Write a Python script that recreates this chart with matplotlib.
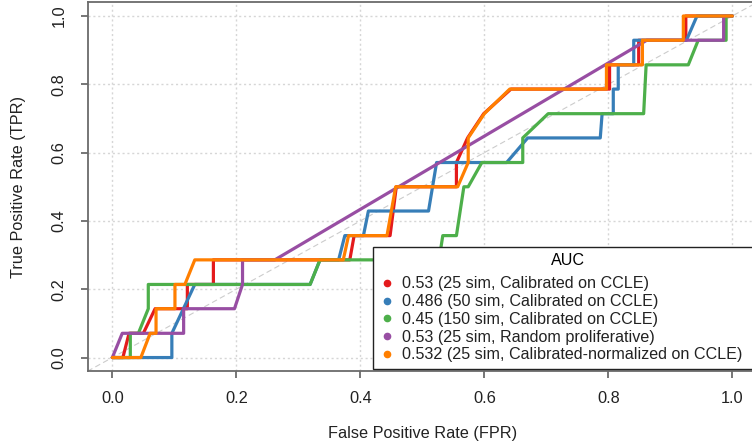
import matplotlib
matplotlib.use("Agg")
import matplotlib.pyplot as plt
from matplotlib.lines import Line2D

plt.rcParams['font.family'] = ['Liberation Sans', 'DejaVu Sans']

# ROC curves (FPR, TPR)
red_fpr = [0, 0.017, 0.027, 0.050, 0.069, 0.121, 0.121, 0.163, 0.163, 0.383, 0.390, 0.448, 0.458,
           0.555, 0.555, 0.573, 0.599, 0.643, 0.802, 0.802, 0.849, 0.849, 0.925, 0.925, 1.0]
red_tpr = [0, 0, 0.071, 0.071, 0.143, 0.143, 0.214, 0.214, 0.286, 0.286, 0.357, 0.357, 0.5,
           0.5, 0.571, 0.643, 0.714, 0.786, 0.786, 0.857, 0.857, 0.929, 0.929, 1.0, 1.0]

blue_fpr = [0, 0.096, 0.096, 0.133, 0.319, 0.335, 0.365, 0.375, 0.405, 0.413, 0.510, 0.523, 0.636,
            0.670, 0.787, 0.790, 0.808, 0.808, 0.816, 0.816, 0.841, 0.841, 0.926, 0.943, 1.0]
blue_tpr = [0, 0, 0.071, 0.214, 0.214, 0.286, 0.286, 0.357, 0.357, 0.429, 0.429, 0.571, 0.571,
            0.643, 0.643, 0.714, 0.714, 0.786, 0.786, 0.857, 0.857, 0.929, 0.929, 1.0, 1.0]

green_fpr = [0, 0.029, 0.029, 0.042, 0.058, 0.058, 0.319, 0.335, 0.527, 0.533, 0.555, 0.567,
             0.574, 0.596, 0.662, 0.662, 0.703, 0.857, 0.861, 0.929, 0.945, 0.990, 0.990, 1.0]
green_tpr = [0, 0, 0.071, 0.071, 0.143, 0.214, 0.214, 0.286, 0.286, 0.357, 0.357, 0.5,
             0.5, 0.571, 0.571, 0.643, 0.714, 0.714, 0.857, 0.857, 0.929, 0.929, 1.0, 1.0]

purple_fpr = [0, 0.016, 0.115, 0.115, 0.197, 0.210, 0.210, 0.262, 0.862, 0.986, 0.986, 1.0]
purple_tpr = [0, 0.071, 0.071, 0.143, 0.143, 0.214, 0.286, 0.286, 0.929, 0.929, 1.0, 1.0]

orange_fpr = [0, 0.046, 0.061, 0.0705, 0.0705, 0.101, 0.101, 0.117, 0.133, 0.3725, 0.381, 0.443, 0.457,
              0.557, 0.574, 0.574, 0.600, 0.641, 0.797, 0.797, 0.855, 0.855, 0.921, 0.921, 1.0]
orange_tpr = [0, 0, 0.071, 0.071, 0.143, 0.143, 0.214, 0.214, 0.286, 0.286, 0.357, 0.357, 0.5,
              0.5, 0.571, 0.643, 0.714, 0.786, 0.786, 0.857, 0.857, 0.929, 0.929, 1.0, 1.0]

labels = ["0.53 (25 sim, Calibrated on CCLE)",
          "0.486 (50 sim, Calibrated on CCLE)",
          "0.45 (150 sim, Calibrated on CCLE)",
          "0.53 (25 sim, Random proliferative)",
          "0.532 (25 sim, Calibrated-normalized on CCLE)"]
colors = ['#E41A1C', '#377EB8', '#4DAF4A', '#984EA3', '#FF7F00']
ticks = [0.0, 0.2, 0.4, 0.6, 0.8, 1.0]

fig = plt.figure(figsize=(7.52, 4.48), dpi=100)
ax = fig.add_axes([0.1164, 0.1714, 0.8904, 0.8234])
ax.set_xlim(-0.04, 1.04)
ax.set_ylim(-0.04, 1.04)

# dotted grid + chance diagonal
for t in ticks:
    ax.axvline(t, color='#d6d6d6', lw=1, ls=(0, (1.5, 2)), zorder=1)
    ax.axhline(t, color='#d6d6d6', lw=1, ls=(0, (1.5, 2)), zorder=1)
ax.axline((0, 0), (1, 1), color='#cccccc', lw=0.8, ls=(0, (5, 3)), zorder=1)

curves = [(red_fpr, red_tpr), (blue_fpr, blue_tpr), (green_fpr, green_tpr),
          (purple_fpr, purple_tpr), (orange_fpr, orange_tpr)]
for (fx, ty), c in zip(curves, colors):
    ax.plot(fx, ty, color=c, lw=2.3, solid_joinstyle='round', solid_capstyle='round', zorder=3)

for s in ax.spines.values():
    s.set_color('#6b6b6b')
    s.set_linewidth(1.3)
ax.set_xticks(ticks)
ax.set_yticks(ticks)
ax.set_xticklabels([f"{t:.1f}" for t in ticks])
ax.set_yticklabels([f"{t:.1f}" for t in ticks], rotation=90, va='center')
ax.tick_params(direction='out', length=5, width=1.3, color='#6b6b6b', labelsize=11.8, labelcolor='#222222')
ax.tick_params(axis='x', pad=9)
ax.tick_params(axis='y', pad=10)

ax.set_xlabel("False Positive Rate (FPR)", fontsize=11.7, color='#222222', va='center')
ax.xaxis.set_label_coords(0.5, -0.170)
ax.set_ylabel("True Positive Rate (TPR)", fontsize=11.7, color='#222222', va='center')
ax.yaxis.set_label_coords(-0.1038, 0.5)

# legend box runs off the right edge like in the original
handles = [Line2D([], [], ls='none', marker='o', markersize=4.5, color=c) for c in colors]
leg = ax.legend(handles, labels, title="AUC", loc='upper left', mode='expand',
                bbox_to_anchor=(0.4256, 0.0, 0.585, 0.3375),
                fontsize=11.6, title_fontsize=11.6, frameon=True, fancybox=False, framealpha=1,
                edgecolor='#222222', borderpad=0.4, handlelength=1.0, handletextpad=0.45,
                labelspacing=0.17, borderaxespad=0)
leg.get_frame().set_linewidth(1.0)
leg.set_zorder(5)
leg._legend_box.sep = 6  # a bit more room under the title
for txt in leg.get_texts():
    txt.set_color('#222222')

fig.savefig("out.png", dpi=100)
